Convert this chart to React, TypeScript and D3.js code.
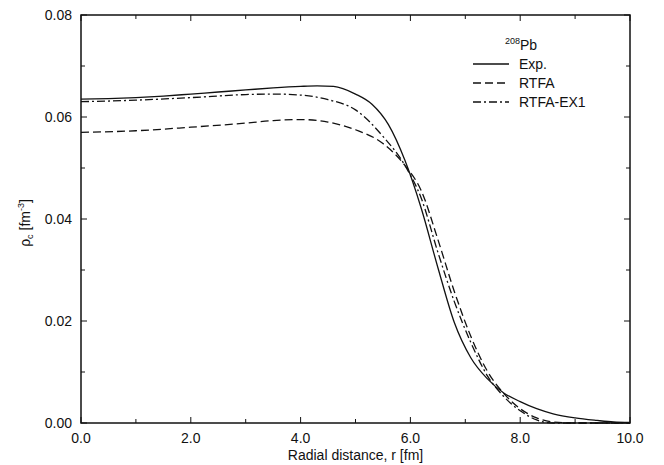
import React from "react";
import * as d3 from "d3";

// radial distance grid and charge densities
const rExp = [0, 0.5, 1, 1.5, 2, 2.5, 3, 3.5, 4, 4.3, 4.6, 5, 5.3, 5.6, 5.9, 6.2, 6.5, 6.8, 7.1, 7.4, 7.7, 8, 8.3, 8.6, 9, 9.4, 9.7, 10];
const rhoExp = [0.0635, 0.0636, 0.0638, 0.0641, 0.0645, 0.0649, 0.0653, 0.0657, 0.066, 0.0661, 0.066, 0.0645, 0.0625, 0.0585, 0.0515, 0.042, 0.0305, 0.0197, 0.0128, 0.0087, 0.0059, 0.0042, 0.0028, 0.0018, 0.001, 0.0005, 0.0002, 0.0001];

const rModel = [0, 1, 2, 3, 3.5, 4, 4.5, 5, 5.5, 5.9, 6.2, 6.5, 6.8, 7.1, 7.4, 7.7, 8, 8.3, 8.6, 9, 10];
const rhoRTFA = [0.057, 0.0573, 0.058, 0.0588, 0.0593, 0.0595, 0.059, 0.0575, 0.0548, 0.0505, 0.0455, 0.036, 0.0258, 0.017, 0.0102, 0.0058, 0.0028, 0.001, 0.0002, 0, 0];
const rhoEX1 = [0.063, 0.0633, 0.0638, 0.0644, 0.0645, 0.0643, 0.0634, 0.0614, 0.0562, 0.0505, 0.044, 0.0335, 0.0238, 0.0158, 0.0093, 0.0052, 0.0024, 0.0006, 0, 0, 0];

const xTicks = [0, 2, 4, 6, 8, 10];
const xMinor = [1, 3, 5, 7, 9];
const yTicks = [0, 0.02, 0.04, 0.06, 0.08];
const yMinor = [0.01, 0.03, 0.05, 0.07];

const series = [
  { label: "Exp.", r: rExp, rho: rhoExp, dash: "none" },
  { label: "RTFA", r: rModel, rho: rhoRTFA, dash: "8,4" },
  { label: "RTFA-EX1", r: rModel, rho: rhoEX1, dash: "8,3,2,3" },
];

export default function App() {
  const W = 664, H = 465;
  const left = 81, right = 630, top = 15, bottom = 423;
  const x = d3.scaleLinear().domain([0, 10]).range([left, right]);
  const y = d3.scaleLinear().domain([0, 0.08]).range([bottom, top]);
  const font = "'Liberation Sans', Arial, Helvetica, sans-serif";

  const line = (r: number[], v: number[]) =>
    d3.line<number>()
      .x((_, i) => x(r[i]))
      .y((d) => y(d))
      .curve(d3.curveMonotoneX)(v) || "";

  return (
    <svg width={W} height={H} style={{ position: "absolute", left: 0, top: 0 }} fontFamily={font}>
      <rect width={W} height={H} fill="#fff" />
      {series.map((s) => (
        <path key={s.label} d={line(s.r, s.rho)} fill="none" stroke="#111" strokeWidth={1.3}
          strokeDasharray={s.dash === "none" ? undefined : s.dash} />
      ))}
      <rect x={left} y={top} width={right - left} height={bottom - top} fill="none" stroke="#111" strokeWidth={1.5} />
      {xTicks.concat(xMinor).map((t) => {
        const len = xTicks.includes(t) ? 6 : 4;
        return (
          <g key={"x" + t}>
            <line x1={x(t)} x2={x(t)} y1={bottom} y2={bottom - len} stroke="#111" />
            <line x1={x(t)} x2={x(t)} y1={top} y2={top + len} stroke="#111" />
          </g>
        );
      })}
      {yTicks.concat(yMinor).map((t) => {
        const len = yTicks.includes(t) ? 6 : 4;
        return (
          <g key={"y" + t}>
            <line x1={left} x2={left + len} y1={y(t)} y2={y(t)} stroke="#111" />
            <line x1={right} x2={right - len} y1={y(t)} y2={y(t)} stroke="#111" />
          </g>
        );
      })}
      {xTicks.map((t) => (
        <text key={"xl" + t} x={x(t)} y={bottom + 20} textAnchor="middle" fontSize={14} fill="#111">
          {t.toFixed(1)}
        </text>
      ))}
      {yTicks.map((t) => (
        <text key={"yl" + t} x={left - 9} y={y(t) + 5} textAnchor="end" fontSize={14} fill="#111">
          {t.toFixed(2)}
        </text>
      ))}
      <text x={(left + right) / 2} y={H - 5} textAnchor="middle" fontSize={14} fill="#111">
        Radial distance, r [fm]
      </text>
      <text transform={`translate(30,223) rotate(-90)`} textAnchor="middle" fontSize={14} fill="#111">
        ρ<tspan fontSize={9} dy={3}>c</tspan>
        <tspan dy={-3}> [fm</tspan>
        <tspan fontSize={9} dy={-6}>-3</tspan>
        <tspan dy={6}>]</tspan>
      </text>
      <text x={505} y={50} fontSize={14} fill="#111">
        <tspan fontSize={9} dy={-6}>208</tspan>
        <tspan dy={6}>Pb</tspan>
      </text>
      {series.map((s, i) => {
        const ly = 64 + i * 19;
        return (
          <g key={"lg" + s.label}>
            <line x1={473} x2={509} y1={ly} y2={ly} stroke="#111" strokeWidth={1.3}
              strokeDasharray={s.dash === "none" ? undefined : s.dash} />
            <text x={519} y={ly + 5} fontSize={14} fill="#111">{s.label}</text>
          </g>
        );
      })}
    </svg>
  );
}
